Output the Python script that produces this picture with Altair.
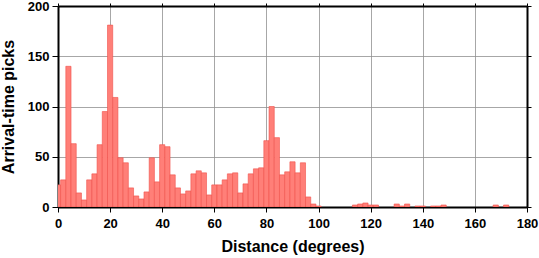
import altair as alt
import pandas as pd

# Bin centres (degrees, 2-degree bins) and pick counts
distance_bins = [0, 2, 4, 6, 8, 10, 12, 14, 16, 18, 20, 22, 24, 26, 28, 30, 32, 34,
                 36, 38, 40, 42, 44, 46, 48, 50, 52, 54, 56, 58, 60, 62, 64, 66, 68,
                 70, 72, 74, 76, 78, 80, 82, 84, 86, 88, 90, 92, 94, 96, 98, 100,
                 114, 116, 118, 120, 122, 130, 132, 134, 138, 140, 144, 146, 148,
                 168, 172]
picks = [22, 27, 140, 63, 14, 7, 27, 33, 62, 95, 181, 109, 49, 44, 19, 11, 8, 15,
         49, 25, 62, 60, 32, 19, 13, 16, 33, 36, 34, 12, 22, 22, 27, 33, 34,
         14, 23, 33, 38, 39, 66, 100, 69, 32, 35, 45, 34, 44, 10, 3, 1,
         2, 3, 4, 2, 2, 3, 1, 3, 1, 1, 1, 1, 2,
         2, 2]

x_ticks = [0, 20, 40, 60, 80, 100, 120, 140, 160, 180]
y_ticks = [0, 50, 100, 150, 200]

df = pd.DataFrame({"c": distance_bins, "n": picks})
df["lo"] = df["c"] - 1
df["hi"] = df["c"] + 1
df["base"] = 0

FONT = "Liberation Sans"
xs = alt.Scale(domain=[0, 180], nice=False, zero=False, padding=0)
ys = alt.Scale(domain=[0, 200], nice=False, padding=0)

common = dict(domainColor="black", domainWidth=2, tickColor="black", tickWidth=1,
              labelFont=FONT, labelFontWeight="bold", labelFontSize=13,
              labelColor="black", titleFont=FONT, titleFontWeight="bold",
              titleFontSize=16, titleColor="black", labelFlush=False,
              labelOverlap=False)

bottom_axis = alt.Axis(values=x_ticks, orient="bottom", title="Distance (degrees)",
                       tickSize=5, labelPadding=5, titlePadding=8, grid=True,
                       gridColor="#909090", gridWidth=0.8, format="d", **common)
left_axis = alt.Axis(values=y_ticks, orient="left", title="Arrival-time picks",
                     tickSize=6, labelPadding=3, titlePadding=11, grid=True,
                     gridColor="#909090", gridWidth=0.8, format="d", **common)
top_axis = alt.Axis(values=x_ticks, orient="top", title=None, labels=False,
                    tickSize=3, grid=False, domainColor="black", domainWidth=2,
                    tickColor="black", tickWidth=1)
right_axis = alt.Axis(values=y_ticks, orient="right", title=None, labels=False,
                      tickSize=4, grid=False, domainColor="black", domainWidth=2,
                      tickColor="black", tickWidth=1)

bars = alt.Chart(df).mark_rect(clip=True, color="#ff7f78", stroke="#f0504a",
                               strokeWidth=0.6).encode(
    x=alt.X("lo:Q", scale=xs, axis=bottom_axis),
    x2="hi:Q",
    y=alt.Y("n:Q", scale=ys, axis=left_axis),
    y2="base:Q",
)

frame = alt.Chart(df).mark_point(opacity=0).encode(
    x=alt.X("lo:Q", scale=xs, axis=top_axis),
    y=alt.Y("n:Q", scale=ys, axis=right_axis),
)

chart = alt.layer(bars, frame).resolve_axis(x="independent", y="independent").properties(
    width=469, height=201,
    autosize=alt.AutoSizeParams(type="none"),
    padding={"left": 58, "top": 6, "right": 12, "bottom": 51},
    background="white",
).configure_view(stroke=None)

chart.save("out.html", embed_options={"renderer": "svg", "actions": False})
